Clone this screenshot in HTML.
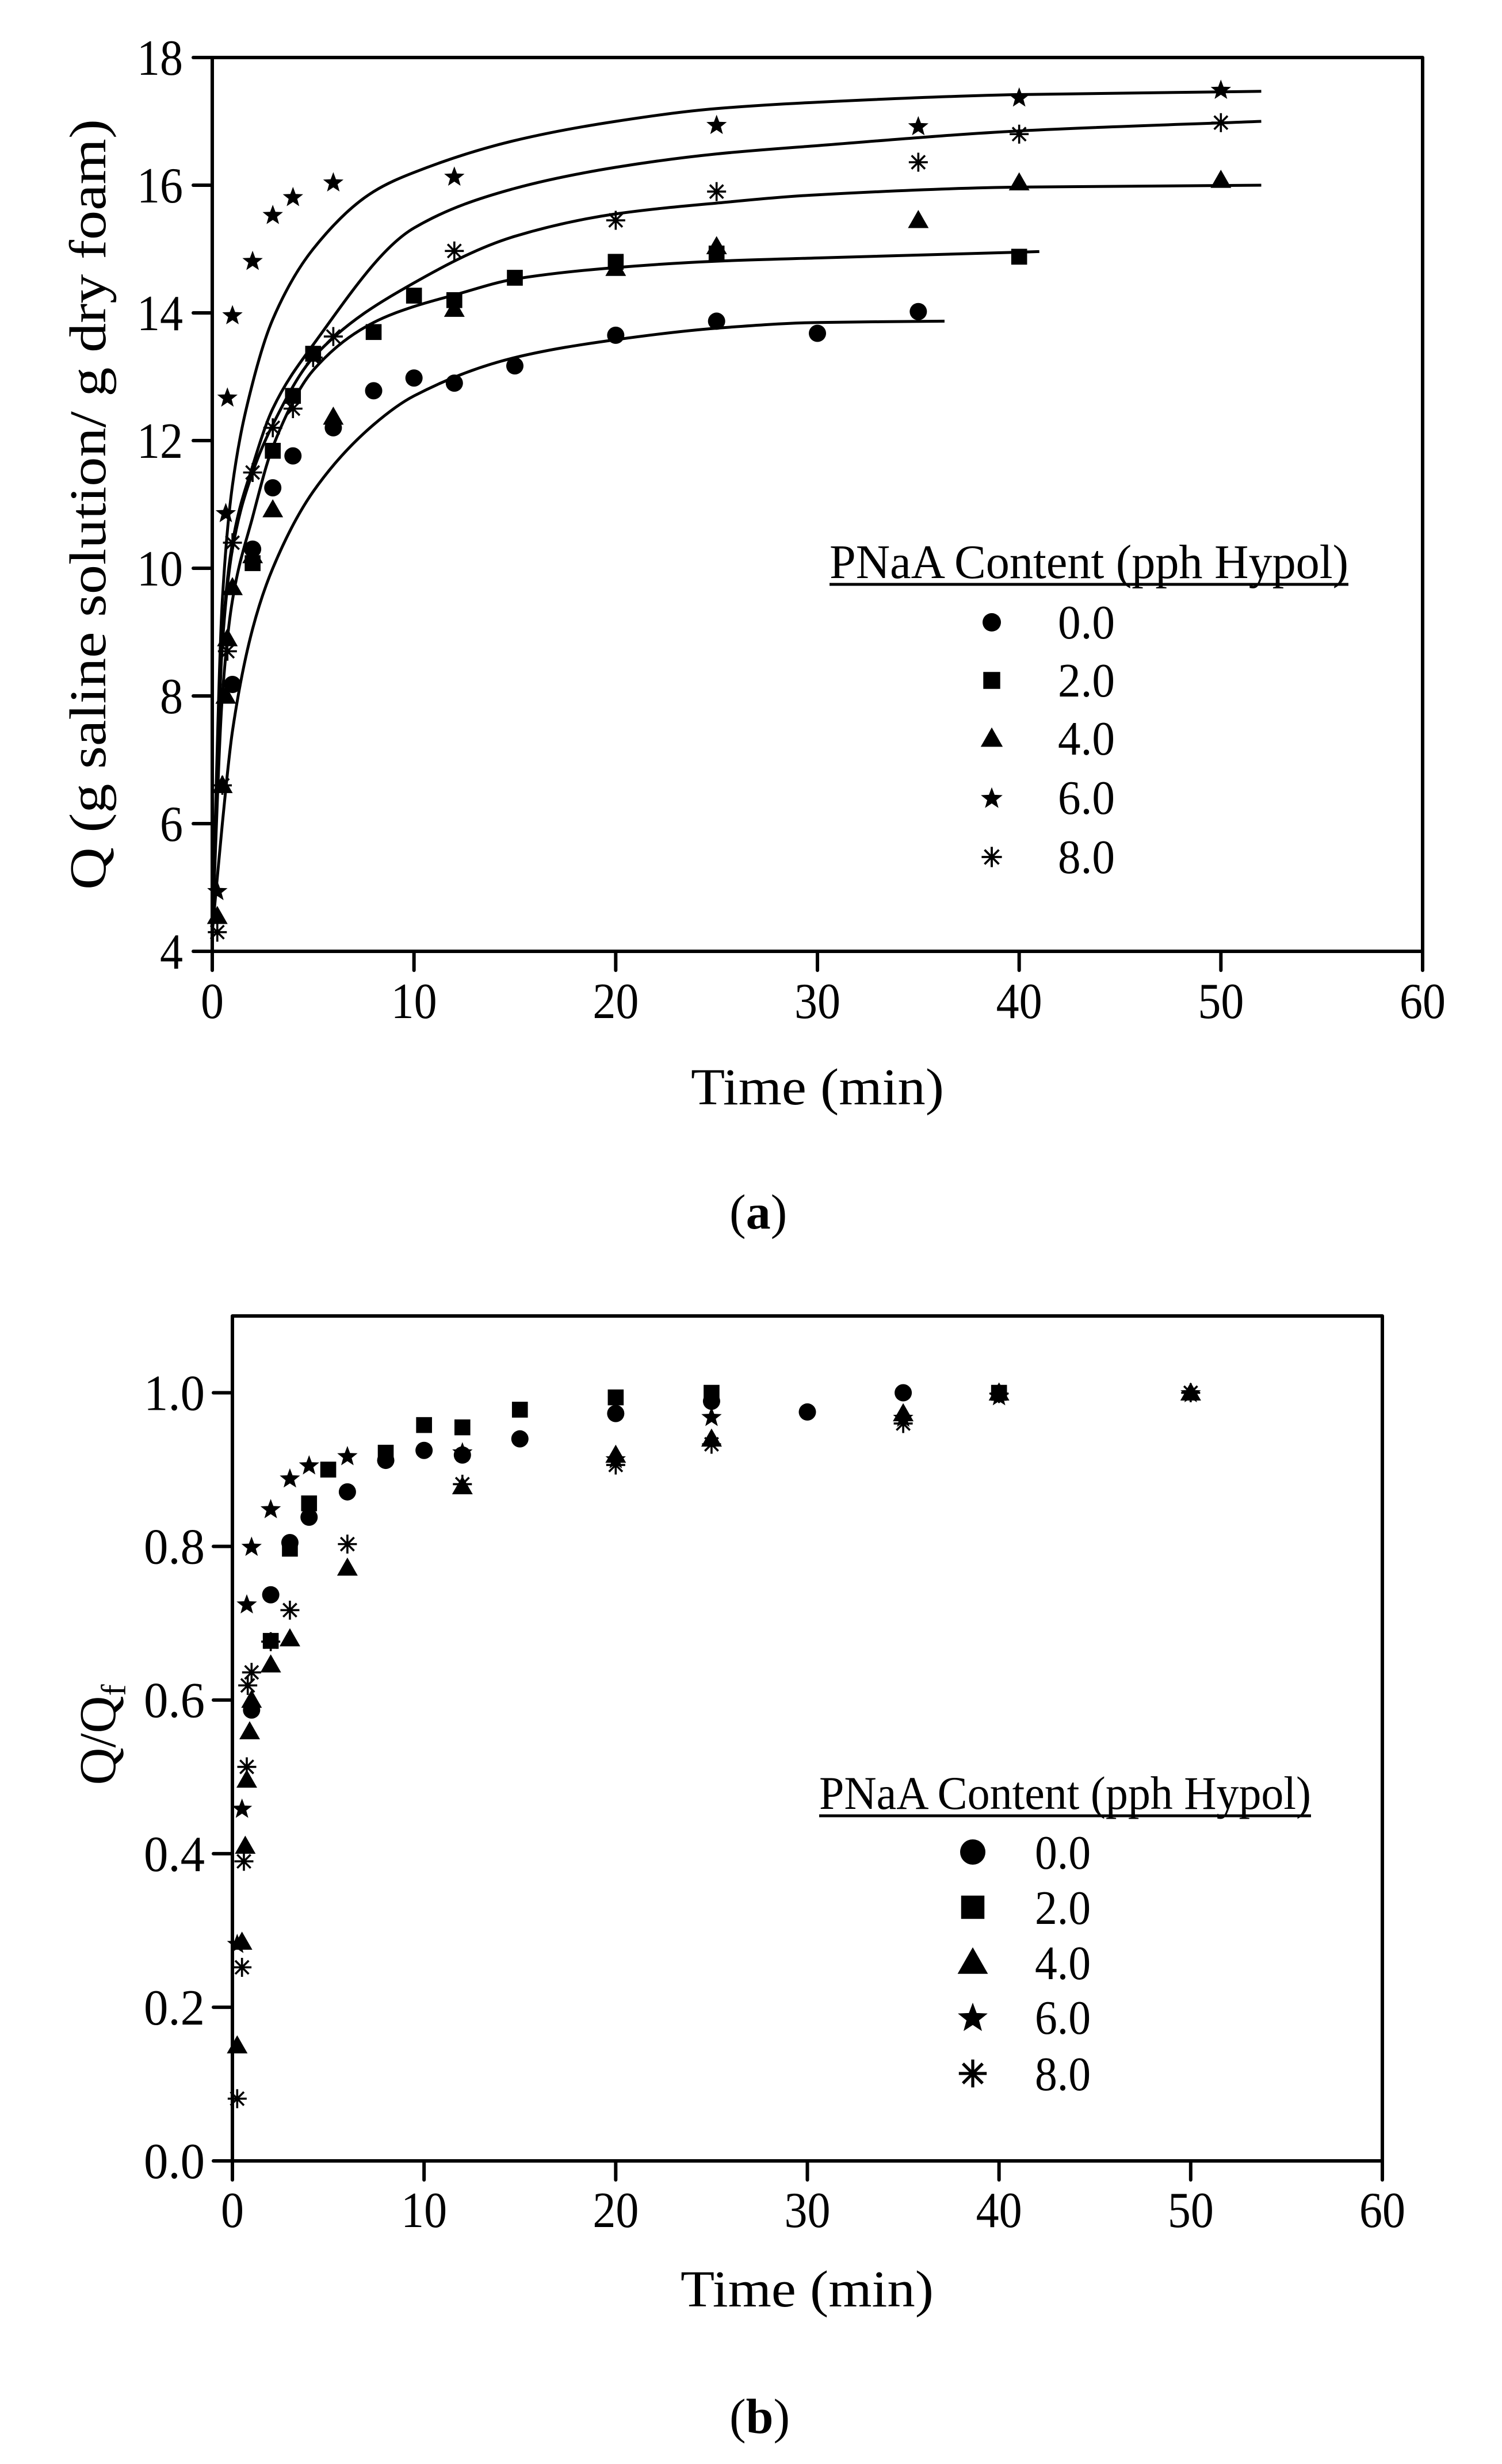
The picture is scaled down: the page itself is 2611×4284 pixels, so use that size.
<!DOCTYPE html>
<html><head><meta charset="utf-8">
<style>
html,body{margin:0;padding:0;background:#fff;}
svg{display:block;}
text{font-family:"Liberation Serif",serif;fill:#000;}
</style></head>
<body>
<svg id="fig" width="2611" height="4284" viewBox="0 0 2611 4284" xmlns="http://www.w3.org/2000/svg">
<rect width="2611" height="4284" fill="#fff"/>
<g id="plotA"></g>
<g id="plotB"></g>
</svg>
<script>
// ---------- Chart (a) data ----------
const seriesNames = ["0.0","2.0","4.0","6.0","8.0"];
const seriesShapes = ["circle","square","triangle","star","asterisk"];
const xTicksA = [0,10,20,30,40,50,60];
const yTicksA = [4,6,8,10,12,14,16,18];
const xTicksB = [0,10,20,30,40,50,60];
const yTicksB = ["0.0","0.2","0.4","0.6","0.8","1.0"];

const a0_t = [1,2,3,4,6,8,10,12,15,20,25,30,35];
const a0_q = [8.18,10.3,11.26,11.76,12.2,12.78,12.98,12.9,13.17,13.65,13.87,13.68,14.02];
const a2_t = [2,3,4,5,8,10,12,15,20,25,40];
const a2_q = [10.08,11.84,12.7,13.36,13.7,14.27,14.2,14.55,14.8,14.93,14.88];
const a4_t = [0.25,0.5,0.67,0.75,1,2,3,6,12,20,25,35,40,50];
const a4_q = [4.55,6.6,8.0,8.9,9.7,10.2,10.92,12.37,14.06,14.7,15.04,15.45,16.04,16.08];
const a6_t = [0.25,0.67,0.75,1,2,3,4,6,12,25,35,40,50];
const a6_q = [4.95,10.87,12.68,13.97,14.82,15.54,15.82,16.05,16.14,16.95,16.93,17.38,17.5];
const a8_t = [0.25,0.5,0.75,1,2,3,4,5,6,12,20,25,35,40,50];
const a8_q = [4.3,6.6,8.7,10.4,11.5,12.2,12.5,13.3,13.63,14.97,15.45,15.9,16.36,16.8,16.98];

// fitted curves
const c0_t = [0,0.5,1,2,3,5,8,10,15,20,25,30,36.3];
const c0_q = [4.3,6.0,7.45,9.05,10.0,11.2,12.25,12.7,13.3,13.58,13.76,13.85,13.87];
const c2_t = [0,0.5,1,2,3,5,8,10,12,15,20,25,30,41];
const c2_q = [4.3,8.0,9.5,10.8,11.9,13.1,13.85,14.1,14.28,14.53,14.71,14.81,14.86,14.96];
const c4_t = [0,0.5,1,2,3,5,10,15,20,25,30,40,52];
const c4_q = [4.3,8.8,10.3,11.5,12.25,13.3,14.47,15.2,15.55,15.72,15.85,15.97,16.0];
const c6_t = [0,0.5,1,2,3,5,8,10,15,20,25,30,40,52];
const c6_q = [4.3,9.5,11.3,12.9,13.9,15.0,15.9,16.2,16.7,17.0,17.2,17.3,17.42,17.47];
const c8_t = [0,0.5,1,2,3,5,10,15,20,25,30,40,52];
const c8_q = [4.3,8.9,10.4,11.6,12.5,13.5,15.33,15.95,16.28,16.49,16.62,16.85,17.0];

// ---------- Chart (b) data ----------
const b0_t = [1,2,3,4,6,8,10,12,15,20,25,30,35];
const b0_r = [0.587,0.737,0.805,0.838,0.871,0.912,0.925,0.919,0.94,0.973,0.989,0.975,1.0];
const b2_t = [2,3,4,5,8,10,12,15,20,25,40];
const b2_r = [0.677,0.797,0.856,0.9,0.922,0.958,0.955,0.978,0.994,1.0,1.0];
const b4_t = [0.25,0.5,0.67,0.75,0.9,1,2,3,6,12,20,25,35,40,50];
const b4_r = [0.15,0.285,0.41,0.496,0.559,0.60,0.646,0.68,0.772,0.878,0.919,0.94,0.973,1.0,1.0];
const b6_t = [0.25,0.5,0.75,1,2,3,4,6,12,20,25,35,40,50];
const b6_r = [0.283,0.459,0.725,0.80,0.849,0.889,0.906,0.918,0.923,0.914,0.969,0.968,0.996,1.0];
const b8_t = [0.25,0.5,0.6,0.75,0.8,1,2,3,6,12,20,25,35,40,50];
const b8_r = [0.081,0.252,0.39,0.513,0.619,0.636,0.676,0.717,0.803,0.881,0.906,0.933,0.96,0.999,1.0];

const NS = "http://www.w3.org/2000/svg";
function mk(parent, tag, attrs){
  const e = document.createElementNS(NS, tag);
  for (const k in attrs) e.setAttribute(k, attrs[k]);
  parent.appendChild(e);
  return e;
}
function txt(parent, s, x, y, size, anchor, len, name){
  const e = mk(parent, "text", {x:x, y:y, "font-size":size, "text-anchor":anchor||"start"});
  e.textContent = s;
  if (len) { e.setAttribute("textLength", len); e.setAttribute("lengthAdjust","spacingAndGlyphs"); }
  
  
  return e;
}
function starPath(cx, cy, R){
  const r = R*0.42; let d = "";
  for (let i=0;i<10;i++){
    const ang = -Math.PI/2 + i*Math.PI/5;
    const rad = i%2===0 ? R : r;
    d += (i===0?"M":"L") + (cx+rad*Math.cos(ang)).toFixed(1) + "," + (cy+rad*Math.sin(ang)).toFixed(1);
  }
  return d + "Z";
}
function marker(parent, shape, cx, cy, s, name){
  let e;
  if (shape==="circle") e = mk(parent,"circle",{cx:cx,cy:cy,r:s*0.5,fill:"#000"});
  else if (shape==="square") e = mk(parent,"rect",{x:cx-s*0.46,y:cy-s*0.46,width:s*0.92,height:s*0.92,fill:"#000"});
  else if (shape==="triangle") e = mk(parent,"path",{d:`M${cx},${cy-s*0.6}L${cx+s*0.6},${cy+s*0.45}L${cx-s*0.6},${cy+s*0.45}Z`,fill:"#000"});
  else if (shape==="star") e = mk(parent,"path",{d:starPath(cx,cy+s*0.05,s*0.62),fill:"#000"});
  else {
    const h = s*0.55; let d="";
    for (let i=0;i<4;i++){ const a=i*Math.PI/4; d+=`M${cx-h*Math.cos(a)},${cy-h*Math.sin(a)}L${cx+h*Math.cos(a)},${cy+h*Math.sin(a)}`; }
    e = mk(parent,"path",{d:d,stroke:"#000","stroke-width":Math.max(3,s*0.12),fill:"none"});
  }
  
  
  return e;
}
// monotone cubic (Fritsch-Carlson) in pixel space, x increasing
function monotone(pts){
  const n = pts.length, dx=[], dy=[], m=[], s=[];
  for (let i=0;i<n-1;i++){ dx[i]=pts[i+1][0]-pts[i][0]; dy[i]=pts[i+1][1]-pts[i][1]; s[i]=dy[i]/dx[i]; }
  m[0]=s[0]; m[n-1]=s[n-2];
  for (let i=1;i<n-1;i++){
    if (s[i-1]*s[i]<=0) m[i]=0;
    else { const w1=2*dx[i]+dx[i-1], w2=dx[i]+2*dx[i-1]; m[i]=(w1+w2)/(w1/s[i-1]+w2/s[i]); }
  }
  let d = `M${pts[0][0].toFixed(1)},${pts[0][1].toFixed(1)}`;
  for (let i=0;i<n-1;i++){
    const h=dx[i];
    d += `C${(pts[i][0]+h/3).toFixed(1)},${(pts[i][1]+m[i]*h/3).toFixed(1)} ${(pts[i+1][0]-h/3).toFixed(1)},${(pts[i+1][1]-m[i+1]*h/3).toFixed(1)} ${pts[i+1][0].toFixed(1)},${pts[i+1][1].toFixed(1)}`;
  }
  return d;
}
function axesBox(g, L, T, R, B, xTicks, yTicks, xs, ys, yLabelRight, xLabelBase, fs, yLen, xLen){
  const fr = mk(g,"rect",{x:L,y:T,width:R-L,height:B-T,fill:"none",stroke:"#000","stroke-width":6,"stroke-linejoin":"round"});
  
  
  xTicks.forEach(v=>{
    const x = xs(v);
    const t = mk(g,"line",{x1:x,y1:B,x2:x,y2:B+33,stroke:"#000","stroke-width":6,"stroke-linecap":"round"});
    
    
    txt(g, String(v), x, xLabelBase, fs, "middle", String(v).length*xLen, "x-tick-label");
  });
  yTicks.forEach(v=>{
    const y = ys(parseFloat(v));
    const t = mk(g,"line",{x1:L-33,y1:y,x2:L,y2:y,stroke:"#000","stroke-width":6,"stroke-linecap":"round"});
    
    
    const s = String(v);
    txt(g, s, yLabelRight, y+30, fs, "end", yLen(s), "y-tick-label");
  });
}

// ================= Chart A =================
const gA = document.getElementById("plotA");
const AL=369, AT=100, AR=2473, AB=1654;
const xA = t => AL + (t-0)/(60-0)*(AR-AL);
const yA = q => AB - (q-4)/(18-4)*(AB-AT);
axesBox(gA, AL, AT, AR, AB, xTicksA, yTicksA, xA, yA, 318, 1770, 88,
  s => s.length*40, 40);

const curvesT = [c0_t,c2_t,c4_t,c6_t,c8_t];
const curvesQ = [c0_q,c2_q,c4_q,c6_q,c8_q];
curvesT.forEach((ts,i)=>{
  const pts = ts.map((t,j)=>[xA(t), yA(curvesQ[i][j])]);
  const p = mk(gA,"path",{d:monotone(pts),fill:"none",stroke:"#000","stroke-width":5});
  
  
});
const ptsAT = [a0_t,a2_t,a4_t,a6_t,a8_t];
const ptsAQ = [a0_q,a2_q,a4_q,a6_q,a8_q];
ptsAT.forEach((ts,i)=>{
  ts.forEach((t,j)=>{
    marker(gA, seriesShapes[i], xA(t), yA(ptsAQ[i][j]), 30, 'point-'+seriesShapes[i]);
  });
});
txt(gA, "Time (min)", 1421, 1920, 90, "middle", 440, "x-axis-title");
const yta = txt(gA, "Q (g saline solution/ g dry foam)", 0, 0, 90, "middle", 1340, "y-axis-title");
yta.setAttribute("transform","translate(183,877) rotate(-90)");
txt(gA, "PNaA Content (pph Hypol)", 1442, 1005, 84, "start", 902, "legend-title");
const ulA = mk(gA,"line",{x1:1442,y1:1016,x2:2344,y2:1016,stroke:"#000","stroke-width":5});


const legYA = [1082,1183,1284,1387,1490];
seriesNames.forEach((n,i)=>{
  marker(gA, seriesShapes[i], 1724, legYA[i], 32, 'legend-marker-'+seriesShapes[i]);
  txt(gA, n, 1839, legYA[i]+28, 84, "start", 99, "legend-label");
});
const capA = txt(gA, "(", 1268, 2136, 86, "start", null, "caption-a");
capA.innerHTML = '(<tspan font-weight="bold">a</tspan>)';

// ================= Chart B =================
const gB = document.getElementById("plotB");
const BL=404, BT=2288, BR=2403, BB=3757;
const xB = t => BL + (t-0)/(60-0)*(BR-BL);
const yB = r => BB - (r-0)/(1.1-0)*(BB-BT);
axesBox(gB, BL, BT, BR, BB, xTicksB, yTicksB, xB, yB, 356, 3872, 88,
  s => s.length===3 ? 106 : s.length*40, 40);
const ptsBT = [b0_t,b2_t,b4_t,b6_t,b8_t];
const ptsBR = [b0_r,b2_r,b4_r,b6_r,b8_r];
ptsBT.forEach((ts,i)=>{
  ts.forEach((t,j)=>{
    marker(gB, seriesShapes[i], xB(t), yB(ptsBR[i][j]), 30, 'point-'+seriesShapes[i]);
  });
});
txt(gB, "Time (min)", 1403, 4010, 90, "middle", 440, "x-axis-title");
const ytb = mk(gB,"text",{x:0,y:0,"font-size":90,"text-anchor":"middle"});
ytb.innerHTML = 'Q/Q<tspan font-size="60" dy="18">f</tspan>';


ytb.setAttribute("transform","translate(200,3016) rotate(-90)");
txt(gB, "PNaA Content (pph Hypol)", 1424, 3145, 82, "start", 855, "legend-title");
const ulB = mk(gB,"line",{x1:1424,y1:3157,x2:2279,y2:3157,stroke:"#000","stroke-width":5});


const legYB = [3220,3316,3412,3507,3605];
seriesNames.forEach((n,i)=>{
  marker(gB, seriesShapes[i], 1691, legYB[i], 44, 'legend-marker-'+seriesShapes[i]);
  txt(gB, n, 1799, legYB[i]+29, 84, "start", 97, "legend-label");
});
const capB = txt(gB, "(", 1268, 4230, 86, "start", null, "caption-b");
capB.innerHTML = '(<tspan font-weight="bold">b</tspan>)';
</script>
</body></html>
